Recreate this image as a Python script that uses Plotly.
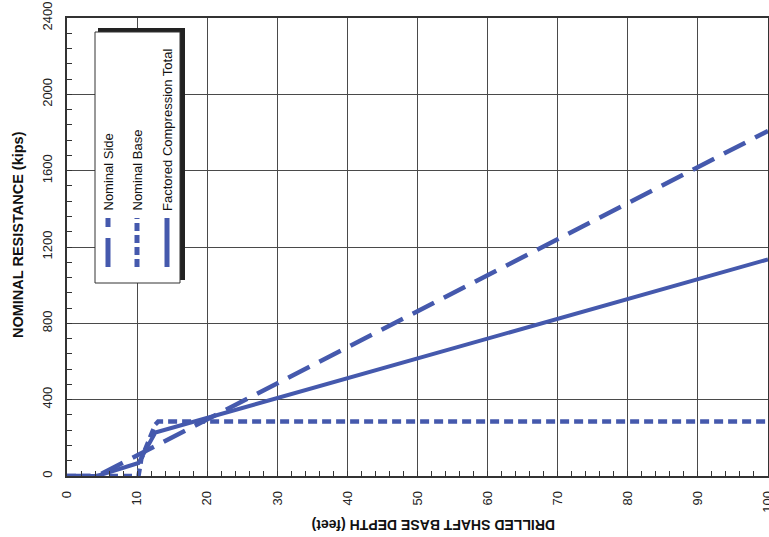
import plotly.graph_objects as go

# ---- data ----
side_depth = [0, 4.3, 100]
side_kips = [0, 0, 1808]

base_depth = [0, 10.2, 10.6, 11.8, 12.6, 13.0, 100]
base_kips = [0, 0, 90, 190, 270, 285, 285]

fact_depth = [0, 4.3, 10.2, 12.6, 100]
fact_kips = [0, 0, 68, 228, 1135]

x_ticks = [0, 10, 20, 30, 40, 50, 60, 70, 80, 90, 100]
y_ticks = [0, 400, 800, 1200, 1600, 2000, 2400]

legend_names = ["Nominal Side", "Nominal Base", "Factored Compression Total"]

BLUE = "#4559AD"
FONT = "Arial, Liberation Sans, sans-serif"

W, H = 769, 537
L, R, T, B = 67, 768, 18, 476  # screen pixel positions of the plot area


def px(p):
    return (p - L) / (R - L)


def py(p):
    return (B - p) / (B - T)


fig = go.Figure()
fig.add_trace(go.Scatter(x=side_depth, y=side_kips, mode="lines", name=legend_names[0],
                         line=dict(color=BLUE, width=4.5, dash="24px,11px")))
fig.add_trace(go.Scatter(x=base_depth, y=base_kips, mode="lines", name=legend_names[1],
                         line=dict(color=BLUE, width=4.5, dash="9px,5px")))
fig.add_trace(go.Scatter(x=fact_depth, y=fact_kips, mode="lines", name=legend_names[2],
                         line=dict(color=BLUE, width=4)))

axis_common = dict(
    showgrid=True, gridcolor="#4a4a4a", gridwidth=1.3,
    showline=True, linecolor="#333333", linewidth=1.5, mirror=True,
    ticks="inside", ticklen=5, tickcolor="#333333",
    tickangle=-90, tickfont=dict(family=FONT, size=13, color="#222222"),
    zeroline=False, automargin=False, ticklabeloverflow="allow",
)

fig.update_xaxes(range=[0, 100], tickvals=x_ticks, ticklabelstandoff=8,
                 minor=dict(dtick=2, ticks="inside", ticklen=5, tickcolor="#333333", showgrid=False),
                 **axis_common)
fig.update_yaxes(range=[0, 2400], tickvals=y_ticks, ticklabelstandoff=8,
                 minor=dict(dtick=80, ticks="inside", ticklen=5, tickcolor="#333333", showgrid=False),
                 **axis_common)

shapes = []
# legend shadow and box
shapes.append(dict(type="rect", xref="paper", yref="paper", layer="above",
                   x0=px(98), x1=px(185), y0=py(280), y1=py(28),
                   fillcolor="#222222", line=dict(width=0)))
shapes.append(dict(type="rect", xref="paper", yref="paper", layer="above",
                   x0=px(95), x1=px(180), y0=py(283), y1=py(32),
                   fillcolor="white", line=dict(color="#333333", width=1)))
# legend samples
sample_x = [108, 137, 167]
sample_dash = ["29px,11px", "8px,4px", "solid"]
for sx, sd in zip(sample_x, sample_dash):
    shapes.append(dict(type="line", xref="paper", yref="paper", layer="above",
                       x0=px(sx), x1=px(sx), y0=py(267), y1=py(218),
                       line=dict(color=BLUE, width=5, dash=sd)))

annotations = []
for sx, name in zip(sample_x, legend_names):
    annotations.append(dict(text=name, xref="paper", yref="paper",
                            x=px(sx), y=py(213), xanchor="center", yanchor="bottom",
                            textangle=-90, showarrow=False,
                            font=dict(family=FONT, size=13, color="#111111")))
# axis titles
annotations.append(dict(text="<b>NOMINAL RESISTANCE (kips)</b>", xref="paper", yref="paper",
                        x=px(18), y=py(235), xanchor="center", yanchor="middle",
                        textangle=-90, showarrow=False,
                        font=dict(family=FONT, size=14.5, color="#111111")))
annotations.append(dict(text="<b>DRILLED SHAFT BASE DEPTH (feet)</b>", xref="paper", yref="paper",
                        x=px(433), y=py(525), xanchor="center", yanchor="middle",
                        textangle=180, showarrow=False,
                        font=dict(family=FONT, size=14, color="#111111")))

fig.update_layout(
    width=W, height=H,
    margin=dict(l=L, r=W - R, t=T, b=H - B),
    paper_bgcolor="white", plot_bgcolor="white",
    showlegend=False, hovermode=False,
    shapes=shapes, annotations=annotations,
)

fig.write_html("out.html", config={"displayModeBar": False},
               post_script="document.body.style.margin='0';document.body.style.overflow='hidden';")
